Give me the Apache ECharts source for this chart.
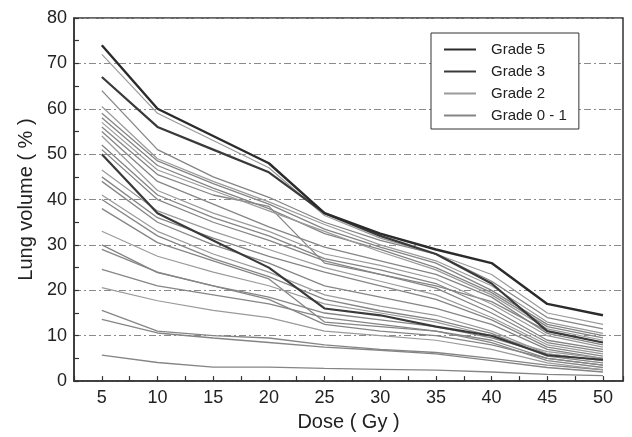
<!DOCTYPE html>
<html>
<head>
<meta charset="utf-8">
<script src="https://cdn.jsdelivr.net/npm/echarts@6/dist/echarts.min.js"></script>
<style>html,body{margin:0;padding:0;background:#fff}#c{width:632px;height:437px}</style>
</head>
<body>
<div id="c"></div>
<script>
const doses = [5, 10, 15, 20, 25, 30, 35, 40, 45, 50];
const xTickLabels = ['5','10','15','20','25','30','35','40','45','50'];
const yTickLabels = ['0','10','20','30','40','50','60','70','80'];

const grade5 = [
  [74, 60, 54, 48, 37, 32.5, 29, 26, 17, 14.5]
];
const grade3 = [
  [67, 56, 51, 46, 37, 32, 28, 21.5, 11, 8.5],
  [50, 37, 31, 25, 16, 14.5, 12, 10, 5.7, 4.7]
];
const grade2 = [
  [72, 59, 53, 47, 36.5, 31.5, 28, 23.5, 15, 12.5],
  [60.5, 49, 44, 39.5, 34.5, 30, 26.5, 21, 13, 10.5],
  [57, 46.5, 42, 37.5, 33, 28.5, 24.5, 19, 11.5, 9],
  [54, 42, 37, 33, 28, 25.5, 22.5, 17, 10, 7.5],
  [46.5, 37.5, 33, 29, 25, 22, 19, 14, 8, 6],
  [41, 33, 28, 24, 19, 16.5, 14.5, 11, 6, 4.5],
  [33, 27.5, 24, 21, 17, 15, 13, 10, 6.5, 5],
  [20.6, 17.7, 15.6, 14, 11, 10, 9, 7, 4, 2.5]
];
const grade01 = [
  [64, 51, 45, 40.5, 35, 31, 28, 22, 14, 11.5],
  [59, 48.5, 43.5, 39, 33.5, 29.5, 26, 20, 12.5, 10],
  [58, 47.5, 42.5, 38, 32.5, 29, 25, 19.5, 12, 9.5],
  [56, 45.5, 41, 38.5, 26, 23.5, 21, 17.5, 11, 8.5],
  [55, 44, 39, 34, 29.5, 26.5, 23.5, 18.5, 10.5, 8],
  [52, 41, 36, 32, 27, 24.5, 21.5, 16, 9, 7],
  [51, 40, 35, 31, 26.5, 23.5, 20.5, 15, 8.5, 6.5],
  [45, 36, 31.5, 27.5, 24, 21, 18, 13.5, 7.5, 5.5],
  [44, 35, 30, 26, 21, 18.5, 16, 12.5, 7, 5],
  [40, 32, 27, 23, 18, 15.5, 13.5, 10.5, 5.5, 4],
  [38, 30.5, 26.5, 22.5, 13, 12, 11, 9, 5, 3.5],
  [30, 23.9, 21, 18.5, 15, 13.5, 12, 9.5, 6, 4.5],
  [29, 24, 21, 18, 12.5, 11, 10, 8, 5, 3.5],
  [24.6, 21, 19, 17, 14, 12.5, 11, 8.5, 4.5, 3],
  [15.6, 11, 10, 9.5, 8, 7, 6.3, 5, 3.5, 2.5],
  [13.6, 10.6, 9.5, 8.5, 7.5, 6.8, 6, 4.5, 3, 2],
  [5.7, 4.1, 3.1, 3.1, 2.8, 2.6, 2.4, 2, 1.5, 1.2]
];

const FONT = '"Liberation Sans", Arial, sans-serif';
const styles = {
  'Grade 5': { color: '#2b2b2b', width: 2.4 },
  'Grade 3': { color: '#3a3a3a', width: 2.2 },
  'Grade 2': { color: '#9a9a9a', width: 1.2 },
  'Grade 0 - 1': { color: '#858585', width: 1.3 }
};
function mk(name, arr) {
  return arr.map(vals => ({
    name: name,
    type: 'line',
    symbol: 'none',
    showSymbol: false,
    silent: true,
    z: name === 'Grade 5' || name === 'Grade 3' ? 4 : 3,
    lineStyle: { color: styles[name].color, width: styles[name].width },
    itemStyle: { color: styles[name].color },
    data: vals.map((v, i) => [doses[i], v])
  }));
}
const series = [].concat(
  mk('Grade 0 - 1', grade01),
  mk('Grade 2', grade2),
  mk('Grade 3', grade3),
  mk('Grade 5', grade5)
);

const chart = echarts.init(document.getElementById('c'), null, { renderer: 'canvas' });
chart.setOption({
  animation: false,
  backgroundColor: '#fff',
  grid: { left: 74, right: 9, top: 18, bottom: 48, show: true, borderColor: '#333', borderWidth: 1.5, backgroundColor: 'transparent' },
  legend: {
    data: ['Grade 5', 'Grade 3', 'Grade 2', 'Grade 0 - 1'],
    orient: 'vertical',
    left: 431, top: 33,
    padding: [9, 12, 6, 12],
    itemWidth: 32, itemHeight: 14, itemGap: 7,
    itemStyle: { opacity: 0 },
    borderColor: '#333', borderWidth: 1, backgroundColor: '#fff',
    selectedMode: false,
    textStyle: { fontFamily: FONT, fontSize: 15, color: '#222', padding: [0, 0, 0, 10] },
    z: 10
  },
  xAxis: {
    type: 'value', min: 2.5, max: 51.8, interval: 2.5,
    name: 'Dose ( Gy )', nameLocation: 'middle', nameGap: 22,
    nameTextStyle: { fontFamily: FONT, fontSize: 20, color: '#222' },
    axisLine: { lineStyle: { color: '#333', width: 1.5 } },
    axisTick: { inside: true, length: 5, lineStyle: { color: '#333', width: 1.2 } },
    axisLabel: {
      fontFamily: FONT, fontSize: 18, color: '#222', margin: 8, showMinLabel: true, showMaxLabel: true,
      formatter: v => { const s = String(Math.round(v * 10) / 10); return xTickLabels.indexOf(s) >= 0 && Math.abs(v - Math.round(v)) < 1e-6 ? s : ''; }
    },
    splitLine: { show: false }
  },
  yAxis: [{
    type: 'value', min: 0, max: 80, interval: 5,
    name: 'Lung volume ( % )', nameLocation: 'middle', nameGap: 38, nameRotate: 90,
    nameTextStyle: { fontFamily: FONT, fontSize: 20, color: '#222' },
    axisLine: { show: true, lineStyle: { color: '#333', width: 1.5 } },
    axisTick: { show: true, inside: true, length: 5, lineStyle: { color: '#333', width: 1.2 } },
    axisLabel: {
      fontFamily: FONT, fontSize: 18, color: '#222', margin: 7,
      formatter: v => { const s = String(v); return yTickLabels.indexOf(s) >= 0 ? s : ''; }
    },
    splitLine: { show: false }
  }, {
    type: 'value', min: 0, max: 80, interval: 10, position: 'left',
    axisLine: { show: false }, axisTick: { show: false }, axisLabel: { show: false },
    splitLine: { show: true, lineStyle: { color: '#8a8a8a', width: 1, type: [7, 3, 2, 3] } }
  }],
  series: series
});
</script>
</body>
</html>
